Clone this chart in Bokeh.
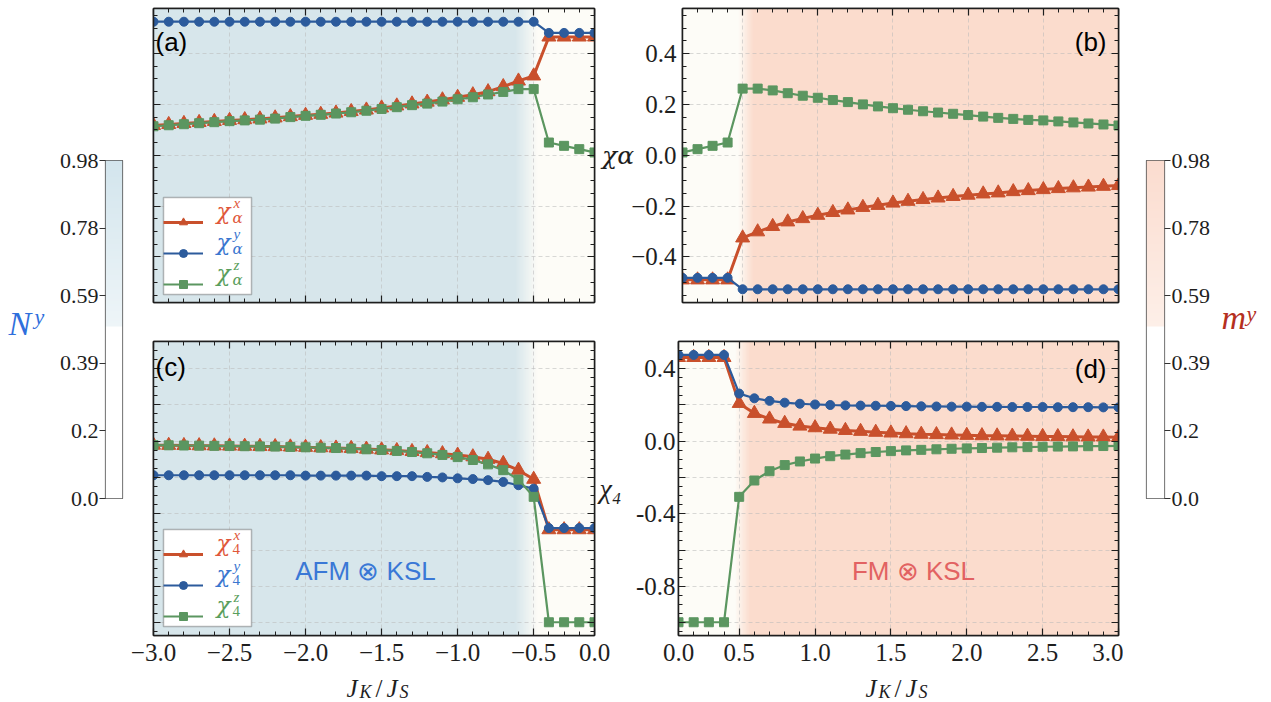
import numpy as np
from bokeh.plotting import figure
from bokeh.layouts import row, column
from bokeh.models import (FixedTicker, LinearAxis, Range1d, Label, Legend,
                          LegendItem, CustomJSTickFormatter, BoxAnnotation)
from bokeh.embed import file_html
from bokeh.resources import INLINE

# ---------------- data ----------------
J_neg = [-3.0, -2.9, -2.8, -2.7, -2.6, -2.5, -2.4, -2.3, -2.2, -2.1,
         -2.0, -1.9, -1.8, -1.7, -1.6, -1.5, -1.4, -1.3, -1.2, -1.1,
         -1.0, -0.9, -0.8, -0.7, -0.6, -0.5, -0.4, -0.3, -0.2, -0.1]
J_pos = [0.1, 0.2, 0.3, 0.4, 0.5, 0.6, 0.7, 0.8, 0.9, 1.0,
         1.1, 1.2, 1.3, 1.4, 1.5, 1.6, 1.7, 1.8, 1.9, 2.0,
         2.1, 2.2, 2.3, 2.4, 2.5, 2.6, 2.7, 2.8, 2.9, 3.0]

# (a) chi_alpha, J_K < 0
chiA_x_neg = [0.117, 0.121, 0.125, 0.129, 0.133, 0.137, 0.140, 0.143, 0.147, 0.152,
              0.157, 0.161, 0.166, 0.172, 0.178, 0.186, 0.194, 0.202, 0.209, 0.218,
              0.228, 0.238, 0.250, 0.270, 0.292, 0.312, 0.465, 0.465, 0.465, 0.465]
chiA_y_neg = [0.525, 0.525, 0.525, 0.525, 0.525, 0.525, 0.525, 0.525, 0.525, 0.525,
              0.525, 0.525, 0.525, 0.525, 0.525, 0.525, 0.525, 0.525, 0.525, 0.525,
              0.525, 0.525, 0.525, 0.525, 0.525, 0.525, 0.481, 0.481, 0.481, 0.481]
chiA_z_neg = [0.114, 0.118, 0.122, 0.126, 0.130, 0.134, 0.137, 0.140, 0.144, 0.150,
              0.155, 0.159, 0.164, 0.169, 0.175, 0.182, 0.189, 0.197, 0.203, 0.211,
              0.220, 0.228, 0.239, 0.249, 0.260, 0.260, 0.050, 0.037, 0.024, 0.011]

# (b) chi_alpha, J_K > 0
chiA_x_pos = [-0.490, -0.490, -0.490, -0.490, -0.325, -0.301, -0.280, -0.262, -0.249, -0.236,
              -0.225, -0.215, -0.205, -0.197, -0.188, -0.181, -0.174, -0.168, -0.162, -0.157,
              -0.152, -0.148, -0.143, -0.139, -0.135, -0.131, -0.128, -0.125, -0.122, -0.119]
chiA_y_pos = [-0.482, -0.482, -0.482, -0.482, -0.527, -0.527, -0.527, -0.527, -0.527, -0.527,
              -0.527, -0.527, -0.527, -0.527, -0.527, -0.527, -0.527, -0.527, -0.527, -0.527,
              -0.527, -0.527, -0.527, -0.527, -0.527, -0.527, -0.527, -0.527, -0.527, -0.527]
chiA_z_pos = [0.011, 0.024, 0.037, 0.050, 0.262, 0.262, 0.255, 0.244, 0.234, 0.226,
              0.217, 0.209, 0.200, 0.192, 0.185, 0.179, 0.173, 0.168, 0.163, 0.158,
              0.152, 0.147, 0.143, 0.139, 0.137, 0.133, 0.129, 0.125, 0.121, 0.117]

# (c) chi_4, J_K < 0
chi4_x_neg = [-0.022, -0.023, -0.024, -0.025, -0.026, -0.027, -0.028, -0.029, -0.030, -0.032,
              -0.034, -0.036, -0.038, -0.040, -0.044, -0.048, -0.052, -0.057, -0.063, -0.069,
              -0.077, -0.086, -0.100, -0.123, -0.160, -0.210, -0.488, -0.488, -0.488, -0.488]
chi4_y_neg = [-0.188, -0.188, -0.188, -0.188, -0.188, -0.188, -0.188, -0.188, -0.188, -0.188,
              -0.190, -0.190, -0.190, -0.190, -0.190, -0.193, -0.193, -0.193, -0.197, -0.200,
              -0.205, -0.209, -0.215, -0.225, -0.243, -0.262, -0.479, -0.479, -0.479, -0.479]
chi4_z_neg = [-0.022, -0.023, -0.024, -0.025, -0.026, -0.027, -0.028, -0.029, -0.030, -0.032,
              -0.034, -0.036, -0.038, -0.041, -0.045, -0.049, -0.054, -0.060, -0.067, -0.076,
              -0.088, -0.104, -0.128, -0.160, -0.212, -0.307, -0.998, -0.998, -0.998, -0.998]

# (d) chi_4, J_K > 0
chi4_x_pos = [0.461, 0.461, 0.461, 0.461, 0.208, 0.153, 0.122, 0.098, 0.083, 0.074,
              0.066, 0.059, 0.054, 0.049, 0.045, 0.041, 0.038, 0.036, 0.034, 0.032,
              0.030, 0.029, 0.028, 0.027, 0.026, 0.025, 0.024, 0.023, 0.023, 0.022]
chi4_y_pos = [0.475, 0.475, 0.475, 0.475, 0.262, 0.236, 0.222, 0.212, 0.206, 0.202,
              0.199, 0.197, 0.196, 0.195, 0.194, 0.193, 0.192, 0.191, 0.190, 0.190,
              0.189, 0.189, 0.188, 0.188, 0.188, 0.187, 0.187, 0.187, 0.186, 0.186]
chi4_z_pos = [-0.998, -0.998, -0.998, -0.998, -0.307, -0.217, -0.166, -0.132, -0.112, -0.096,
              -0.083, -0.074, -0.066, -0.060, -0.055, -0.051, -0.048, -0.045, -0.042, -0.040,
              -0.038, -0.036, -0.034, -0.033, -0.031, -0.030, -0.029, -0.028, -0.027, -0.026]

# phase regions (background shading)
afm_solid_end, afm_fade_end = -0.62, -0.47
fm_fade_start, fm_solid_start = 0.47, 0.57

# colour bars
cb_ticks = [0.0, 0.196, 0.392, 0.588, 0.784, 0.98]
cb_labels = ["0.0", "0.2", "0.39", "0.59", "0.78", "0.98"]

x_ticks_neg = [-3.0, -2.5, -2.0, -1.5, -1.0, -0.5, -0.1]
x_labels_neg = ["\u22123.0", "\u22122.5", "\u22122.0", "\u22121.5", "\u22121.0", "\u22120.5", "0.0"]
x_ticks_pos = [0.1, 0.5, 1.0, 1.5, 2.0, 2.5, 3.0]
x_labels_pos = ["0.0", "0.5", "1.0", "1.5", "2.0", "2.5", "3.0"]
y_ticks_top = [-0.4, -0.2, 0.0, 0.2, 0.4]
y_labels_top = ["\u22120.4", "\u22120.2", "0.0", "0.2", "0.4"]
y_ticks_bot = [-1.0, -0.8, -0.6, -0.4, -0.2, 0.0, 0.2, 0.4]
y_labels_bot = ["", "-0.8", "", "-0.4", "", "0.0", "", "0.4"]

# ---------------- style ----------------
RED, BLUE, GREEN = "#c9502c", "#2c5b9c", "#5b9660"
RED_T, BLUE_T, GREEN_T = "#e0573a", "#3a76cf", "#5a9e5c"
BG_BLUE, BG_CREAM, BG_PEACH = "#d7e6eb", "#fdfcf7", "#fbdccd"
SERIF, SANS, GREEK = "Liberation Serif", "Liberation Sans", "DejaVu Serif"
INK = "#1e1e1e"

XR_NEG = (-3.0, -0.1)
XR_POS = (0.1, 3.0)
YR_TOP = (-0.579, 0.577)
YR_BOT = (-1.071, 0.549)
FRAME_W, FRAME_H = 441, 294

TOP_H, BOT_H, STRIP_H = 307, 366, 29
TOTAL_H = TOP_H + BOT_H + STRIP_H


def hex2rgb(h):
    return np.array([int(h[i:i + 2], 16) for i in (1, 3, 5)], dtype=float)


def mix(c0, c1, t):
    t = min(max(t, 0.0), 1.0)
    return (1 - t) * hex2rgb(c0) + t * hex2rgb(c1)


def rgba_image(cols, shape):
    img = np.empty(shape, dtype=np.uint32)
    view = img.view(dtype=np.uint8).reshape(shape + (4,))
    flat = view.reshape(-1, 4)
    for i, c in enumerate(cols):
        flat[i, :3] = np.round(c).astype(np.uint8)
        flat[i, 3] = 255
    return img


def minor_list(lo, hi, step):
    n = int(round((hi - lo) / step))
    return [round(lo + i * step, 3) for i in range(n + 1)]


def add_axis(p, side, ticks, minor, labels=None, standoff=5, size="25px"):
    ax = LinearAxis(ticker=FixedTicker(ticks=ticks, minor_ticks=minor))
    ax.major_tick_in, ax.major_tick_out = 7, 0
    ax.minor_tick_in, ax.minor_tick_out = 4, 0
    ax.axis_line_color = INK
    ax.axis_line_width = 1.5
    ax.major_tick_line_color = INK
    ax.minor_tick_line_color = INK
    ax.major_tick_line_width = 1.2
    ax.minor_tick_line_width = 1.0
    if labels is None:
        ax.formatter = CustomJSTickFormatter(code="return ''")
        ax.major_label_text_font_size = "1px"
        ax.major_label_standoff = 0
    else:
        ax.major_label_overrides = {t: l for t, l in zip(ticks, labels)}
        ax.major_label_text_font = SERIF
        ax.major_label_text_font_size = size
        ax.major_label_text_color = INK
        ax.major_label_standoff = standoff
    p.add_layout(ax, side)
    return ax


def horizontal_axis_label(ax, text, standoff, font, size):
    ax.axis_label = text
    ax.axis_label_text_font = font
    ax.axis_label_text_font_size = size
    ax.axis_label_text_font_style = "italic"
    ax.axis_label_text_color = INK
    ax.axis_label_standoff = standoff
    try:
        ax.axis_label_orientation = "horizontal"
    except Exception:
        pass


def panel(width, height, xr, yr, borders):
    p = figure(width=width, height=height, x_range=Range1d(*xr), y_range=Range1d(*yr),
               output_backend="svg", toolbar_location=None,
               x_axis_location=None, y_axis_location=None,
               min_border_left=borders[0], min_border_right=borders[1],
               min_border_top=borders[2], min_border_bottom=borders[3])
    p.outline_line_color = INK
    p.outline_line_width = 1.5
    p.background_fill_color = "white"
    p.border_fill_color = "white"
    return p


def strip(width, height):
    s = figure(width=width, height=height, x_range=Range1d(0, width), y_range=Range1d(height, 0),
               output_backend="svg", toolbar_location=None,
               x_axis_location=None, y_axis_location=None,
               min_border_left=0, min_border_right=0, min_border_top=0, min_border_bottom=0)
    s.xgrid.visible = False
    s.ygrid.visible = False
    s.outline_line_color = None
    return s


def shade(p, xr, yr, negative):
    n = 580
    xs = np.linspace(xr[0], xr[1], n)
    cols = []
    for x in xs:
        if negative:
            t = (x - afm_solid_end) / (afm_fade_end - afm_solid_end)
            cols.append(mix(BG_BLUE, BG_CREAM, t))
        else:
            t = (x - fm_fade_start) / (fm_solid_start - fm_fade_start)
            cols.append(mix(BG_CREAM, BG_PEACH, t))
    img = rgba_image(cols, (1, n))
    p.image_rgba(image=[img], x=xr[0], y=yr[0], dw=xr[1] - xr[0], dh=yr[1] - yr[0],
                 level="image")


def grid(p, xt, yt):
    p.xgrid.ticker = FixedTicker(ticks=xt)
    p.ygrid.ticker = FixedTicker(ticks=yt)
    for g in (p.xgrid, p.ygrid):
        g.grid_line_color = "#b9b9b9"
        g.grid_line_alpha = 0.55
        g.grid_line_dash = "4 3"
        g.grid_line_width = 1


def series(p, x, yx, yy, yz):
    r1 = p.line(x, yx, line_color=RED, line_width=3)
    m1 = p.scatter(x, yx, marker="triangle", size=14, color=RED)
    r2 = p.line(x, yy, line_color=BLUE, line_width=2.2)
    m2 = p.scatter(x, yy, marker="circle", size=9, color=BLUE)
    r3 = p.line(x, yz, line_color=GREEN, line_width=2.2)
    m3 = p.scatter(x, yz, marker="square", size=9, color=GREEN)
    return [(r1, m1), (r2, m2), (r3, m3)]


def lab(p, x, y, dx, dy, text, size, color=INK, font=SERIF, style="normal",
        align="left", baseline="middle"):
    p.add_layout(Label(x=x, y=y, x_offset=dx, y_offset=dy, text=text,
                       text_font=font, text_font_size=size, text_font_style=style,
                       text_color=color, text_align=align, text_baseline=baseline,
                       level="overlay"))


def legend(p, rends, xr, yr, loc_y, sub, sub_style, sub_dy):
    # white framed box underneath the legend (legend itself is transparent)
    sx = FRAME_W / (xr[1] - xr[0])
    sy = FRAME_H / (yr[1] - yr[0])
    box = BoxAnnotation(left=xr[0] + 10 / sx, right=xr[0] + 98 / sx,
                        bottom=yr[0] + loc_y / sy, top=yr[0] + (loc_y + 97) / sy,
                        fill_color="white", fill_alpha=1.0, line_color=INK, line_width=1.5,
                        level="underlay")
    p.add_layout(box)
    items = [LegendItem(label=" ", renderers=list(rr)) for rr in rends]
    lg = Legend(items=items, location=(10, loc_y), orientation="vertical")
    lg.border_line_color = None
    lg.background_fill_alpha = 0.0
    lg.padding = 7
    lg.spacing = 11
    lg.margin = 0
    lg.glyph_width = 40
    lg.glyph_height = 20
    lg.label_width = 27
    lg.label_standoff = 6
    lg.label_text_font_size = "10px"
    p.add_layout(lg, "center")
    sups = ["x", "y", "z"]
    cols = [RED_T, BLUE_T, GREEN_T]
    rows = [loc_y + 80, loc_y + 49, loc_y + 18]
    for s, c, r in zip(sups, cols, rows):
        lab(p, xr[0], yr[0], 63, r + 4, "\u03c7", "23px", c, font=GREEK, style="italic")
        lab(p, xr[0], yr[0], 80, r + 12, s, "15px", c, style="italic")
        sub_font = GREEK if sub_style == "italic" else SERIF
        lab(p, xr[0], yr[0], 79, r + sub_dy, sub, "15px", c, font=sub_font, style=sub_style)


# ---- (a)
pa = panel(474, TOP_H, XR_NEG, YR_TOP, (28, 5, 8, 5))
shade(pa, XR_NEG, YR_TOP, True)
grid(pa, x_ticks_neg, y_ticks_top)
ra = series(pa, J_neg, chiA_x_neg, chiA_y_neg, chiA_z_neg)
for side in ("left", "right"):
    add_axis(pa, side, y_ticks_top, minor_list(-0.55, 0.55, 0.05))
for side in ("below", "above"):
    add_axis(pa, side, x_ticks_neg, minor_list(-3.0, -0.1, 0.1))
legend(pa, ra, XR_NEG, YR_TOP, 8, "\u03b1", "italic", -3)
lab(pa, XR_NEG[0], YR_TOP[1], 2, -33, "(a)", "26px", "black", font=SANS)

# ---- (b)
pb = panel(524, TOP_H, XR_POS, YR_TOP, (76, 5, 8, 5))
shade(pb, XR_POS, YR_TOP, False)
grid(pb, x_ticks_pos, y_ticks_top)
series(pb, J_pos, chiA_x_pos, chiA_y_pos, chiA_z_pos)
axb = add_axis(pb, "left", y_ticks_top, minor_list(-0.55, 0.55, 0.05), y_labels_top, standoff=6)
horizontal_axis_label(axb, "\u03c7\u03b1", -6, GREEK, "25px")
add_axis(pb, "right", y_ticks_top, minor_list(-0.55, 0.55, 0.05))
for side in ("below", "above"):
    add_axis(pb, side, x_ticks_pos, minor_list(0.1, 3.0, 0.1))
lab(pb, XR_POS[1], YR_TOP[1], -12, -33, "(b)", "26px", "black", font=SANS, align="right")

# ---- (c)
pc = panel(507, BOT_H, XR_NEG, YR_BOT, (28, 38, 34, 38))
shade(pc, XR_NEG, YR_BOT, True)
grid(pc, x_ticks_neg, y_ticks_bot)
rc = series(pc, J_neg, chi4_x_neg, chi4_y_neg, chi4_z_neg)
add_axis(pc, "left", y_ticks_bot, minor_list(-1.05, 0.55, 0.05))
axc = add_axis(pc, "right", y_ticks_bot, minor_list(-1.05, 0.55, 0.05))
horizontal_axis_label(axc, "\u03c7\u2084", 5, SERIF, "28px")
add_axis(pc, "below", x_ticks_neg, minor_list(-3.0, -0.1, 0.1), x_labels_neg, standoff=8)
add_axis(pc, "above", x_ticks_neg, minor_list(-3.0, -0.1, 0.1))
legend(pc, rc, XR_NEG, YR_BOT, 9, "4", "normal", -2)
lab(pc, XR_NEG[0], YR_BOT[1], 2, -25, "(c)", "26px", "black", font=SANS)
lab(pc, XR_NEG[0], YR_BOT[0], 212, 65, "AFM \u2297 KSL", "26px", "#3a78d6", font=SANS,
    align="center")

# ---- (d)
pd = panel(491, BOT_H, XR_POS, YR_BOT, (43, 5, 34, 38))
shade(pd, XR_POS, YR_BOT, False)
grid(pd, x_ticks_pos, y_ticks_bot)
series(pd, J_pos, chi4_x_pos, chi4_y_pos, chi4_z_pos)
add_axis(pd, "left", y_ticks_bot, minor_list(-1.05, 0.55, 0.05), y_labels_bot, standoff=3)
add_axis(pd, "right", y_ticks_bot, minor_list(-1.05, 0.55, 0.05))
add_axis(pd, "below", x_ticks_pos, minor_list(0.1, 3.0, 0.1), x_labels_pos, standoff=8)
add_axis(pd, "above", x_ticks_pos, minor_list(0.1, 3.0, 0.1))
lab(pd, XR_POS[1], YR_BOT[1], -12, -27, "(d)", "26px", "black", font=SANS, align="right")
lab(pd, XR_POS[0], YR_BOT[0], 235, 65, "FM \u2297 KSL", "26px", "#e26262", font=SANS,
    align="center")

# ---- x-axis title strip (J_K / J_S)
js = strip(998, STRIP_H)


def jlabel(s, x0):
    lab(s, x0, 14.5, 0, 0, "J", "25px", INK, style="italic")
    lab(s, x0 + 13, 18.5, 0, 0, "K", "18px", INK, style="italic")
    lab(s, x0 + 29, 14.5, 0, 0, "/", "25px", INK)
    lab(s, x0 + 40, 14.5, 0, 0, "J", "25px", INK, style="italic")
    lab(s, x0 + 53, 18.5, 0, 0, "S", "18px", INK, style="italic")


jlabel(js, 221)
jlabel(js, 740)


# ---- colour bars
def colorbar(left_side, c_low, c_top, bl, br):
    cb = figure(width=bl + 18 + br, height=TOTAL_H, x_range=Range1d(0, 1),
                y_range=Range1d(0, 0.98), output_backend="svg", toolbar_location=None,
                x_axis_location=None, y_axis_location=None,
                min_border_left=bl, min_border_right=br,
                min_border_top=160, min_border_bottom=TOTAL_H - 160 - 338)
    cb.xgrid.visible = False
    cb.ygrid.visible = False
    cb.outline_line_color = "#555555"
    cb.outline_line_width = 1.2
    n = 196
    lv = np.linspace(0, 0.98, n)
    cols = [np.array([255.0, 255.0, 255.0]) if v < 0.5 else mix(c_low, c_top, (v - 0.5) / 0.48)
            for v in lv]
    img = rgba_image(cols, (n, 1))
    cb.image_rgba(image=[img], x=0, y=0, dw=1, dh=0.98)
    ax = LinearAxis(ticker=FixedTicker(ticks=cb_ticks, minor_ticks=[]))
    ax.major_label_overrides = {t: l for t, l in zip(cb_ticks, cb_labels)}
    ax.major_tick_in, ax.major_tick_out = 0, 6
    ax.major_tick_line_color = "#333333"
    ax.axis_line_color = None
    ax.major_label_text_font = SERIF
    ax.major_label_text_font_size = "22px"
    ax.major_label_text_color = INK
    ax.major_label_standoff = 1
    cb.add_layout(ax, "left" if left_side else "right")
    return cb


nfig = strip(56, TOTAL_H)
lab(nfig, 8, 338, 0, 0, "N", "34px", "#2f6fdc", style="italic")
lab(nfig, 34, 324, 0, 0, "y", "22px", "#2f6fdc", style="italic")
lbar = colorbar(True, "#eef5f8", "#d3e5ed", 48, 3)
rbar = colorbar(False, "#fdefe8", "#fbdccf", 23, 50)
mfig = strip(57, TOTAL_H)
lab(mfig, 7, 327, 0, 0, "m", "34px", "#b5301f", style="italic")
lab(mfig, 32, 317, 0, 0, "y", "22px", "#b5301f", style="italic")

layout = row(nfig, lbar, column(row(pa, pb), row(pc, pd), js), rbar, mfig)
open("out.html", "w").write(file_html(layout, INLINE))
